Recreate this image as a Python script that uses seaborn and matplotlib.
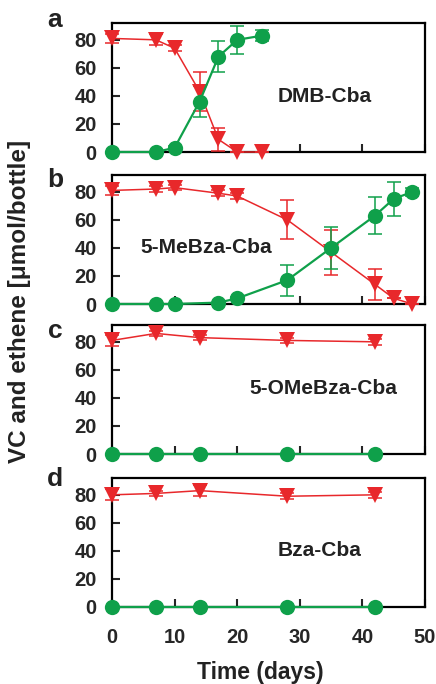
import pandas as pd
import matplotlib
matplotlib.use("Agg")
import matplotlib.pyplot as plt
import seaborn as sns

# panel data: time (days), VC (red) and ethene (green), with error bars
a_day = [0, 7, 10, 14, 17, 20, 24]
a_vc = [81, 80, 74, 43, 9, 0, 0]
a_vc_err = [3, 4, 2, 14, 8, 0, 0]
a_eth = [0, 0, 3, 36, 68, 80, 83]
a_eth_err = [0, 0, 1, 11, 11, 10, 4]

b_day = [0, 7, 10, 17, 20, 28, 35, 42, 45, 48]
b_vc = [81, 82, 83, 79, 77, 60, 37, 14, 4, 0]
b_vc_err = [3, 2, 2, 2, 2, 14, 16, 11, 0, 0]
b_eth = [0, 0, 0, 1, 4, 17, 40, 63, 75, 80]
b_eth_err = [0, 0, 0, 0, 1, 11, 15, 13, 12, 3]

c_day = [0, 7, 14, 28, 42]
c_vc = [81, 86, 83, 81, 80]
c_vc_err = [4, 2, 2, 2, 2]
c_eth = [0, 0, 0, 0, 0]
c_eth_err = [0, 0, 0, 0, 0]

d_day = [0, 7, 14, 28, 42]
d_vc = [80, 81, 83, 79, 80]
d_vc_err = [4, 2, 4, 2, 2]
d_eth = [0, 0, 0, 0, 0]
d_eth_err = [0, 0, 0, 0, 0]

letters = ["a", "b", "c", "d"]
names = ["DMB-Cba", "5-MeBza-Cba", "5-OMeBza-Cba", "Bza-Cba"]
name_pos = [(0.53, 0.43), (0.09, 0.44), (0.44, 0.51), (0.53, 0.44)]
letter_y = [20, 180, 331, 479]
x_ticks = [0, 10, 20, 30, 40, 50]
y_ticks = [0, 20, 40, 60, 80]

RED = "#e8282b"
GREEN = "#0fa04a"

panels = [
    (a_day, a_vc, a_vc_err, a_eth, a_eth_err),
    (b_day, b_vc, b_vc_err, b_eth, b_eth_err),
    (c_day, c_vc, c_vc_err, c_eth, c_eth_err),
    (d_day, d_vc, d_vc_err, d_eth, d_eth_err),
]

sns.set_style("ticks")
plt.rcParams["font.family"] = ["Liberation Sans", "DejaVu Sans"]
plt.rcParams["font.weight"] = "bold"

fig = plt.figure(figsize=(4.36, 6.84), dpi=100)
tops = [23, 175, 325, 478]
h = 129
left, right = 112, 425

for i, (day, vc, vc_err, eth, eth_err) in enumerate(panels):
    ax = fig.add_axes([left / 436, 1 - (tops[i] + h) / 684, (right - left) / 436, h / 684])
    df = pd.DataFrame({"day": day + day,
                       "value": vc + eth,
                       "err": vc_err + eth_err,
                       "species": ["VC"] * len(day) + ["ethene"] * len(day)})
    for sp, col, mk, lw in [("VC", RED, "v", 1.1), ("ethene", GREEN, "o", 1.6)]:
        sub = df[df["species"] == sp]
        ax.errorbar(sub["day"], sub["value"], yerr=sub["err"], fmt="none",
                    ecolor=col, elinewidth=1.1, capsize=5, capthick=1.1, clip_on=False, zorder=3)
        sns.lineplot(data=sub, x="day", y="value", ax=ax, color=col, lw=lw,
                     marker=mk, markersize=11, markeredgewidth=0, zorder=4)
    for ln in ax.lines:
        ln.set_clip_on(False)
    ax.set_xlim(0, 50)
    ax.set_ylim(0, 92)
    ax.set_xticks(x_ticks)
    ax.set_yticks(y_ticks)
    ax.set_xlabel("")
    ax.set_ylabel("")
    ax.tick_params(direction="in", length=6, width=1.5, labelsize=14.5)
    ax.tick_params(axis="y", pad=11)
    ax.tick_params(axis="x", pad=15)
    if i < 3:
        ax.set_xticklabels([])
    for sp in ax.spines.values():
        sp.set_linewidth(1.6)
        sp.set_color("black")
    ax.text(*name_pos[i], names[i], transform=ax.transAxes, fontsize=15,
            fontweight="bold", ha="left", va="center", color="#222222")
    fig.text(55 / 436, 1 - letter_y[i] / 684, letters[i], fontsize=19,
             fontweight="bold", ha="center", va="center", color="#222222")

fig.text(260 / 436, 1 - 673 / 684, "Time (days)", fontsize=16.5,
         fontweight="bold", ha="center", va="center", color="#222222")
fig.text(20 / 436, 1 - 301 / 684, "VC and ethene [\u03bcmol/bottle]", fontsize=17.5,
         fontweight="bold", ha="center", va="center", rotation=90, color="#222222")

fig.savefig("out.png", dpi=100)
